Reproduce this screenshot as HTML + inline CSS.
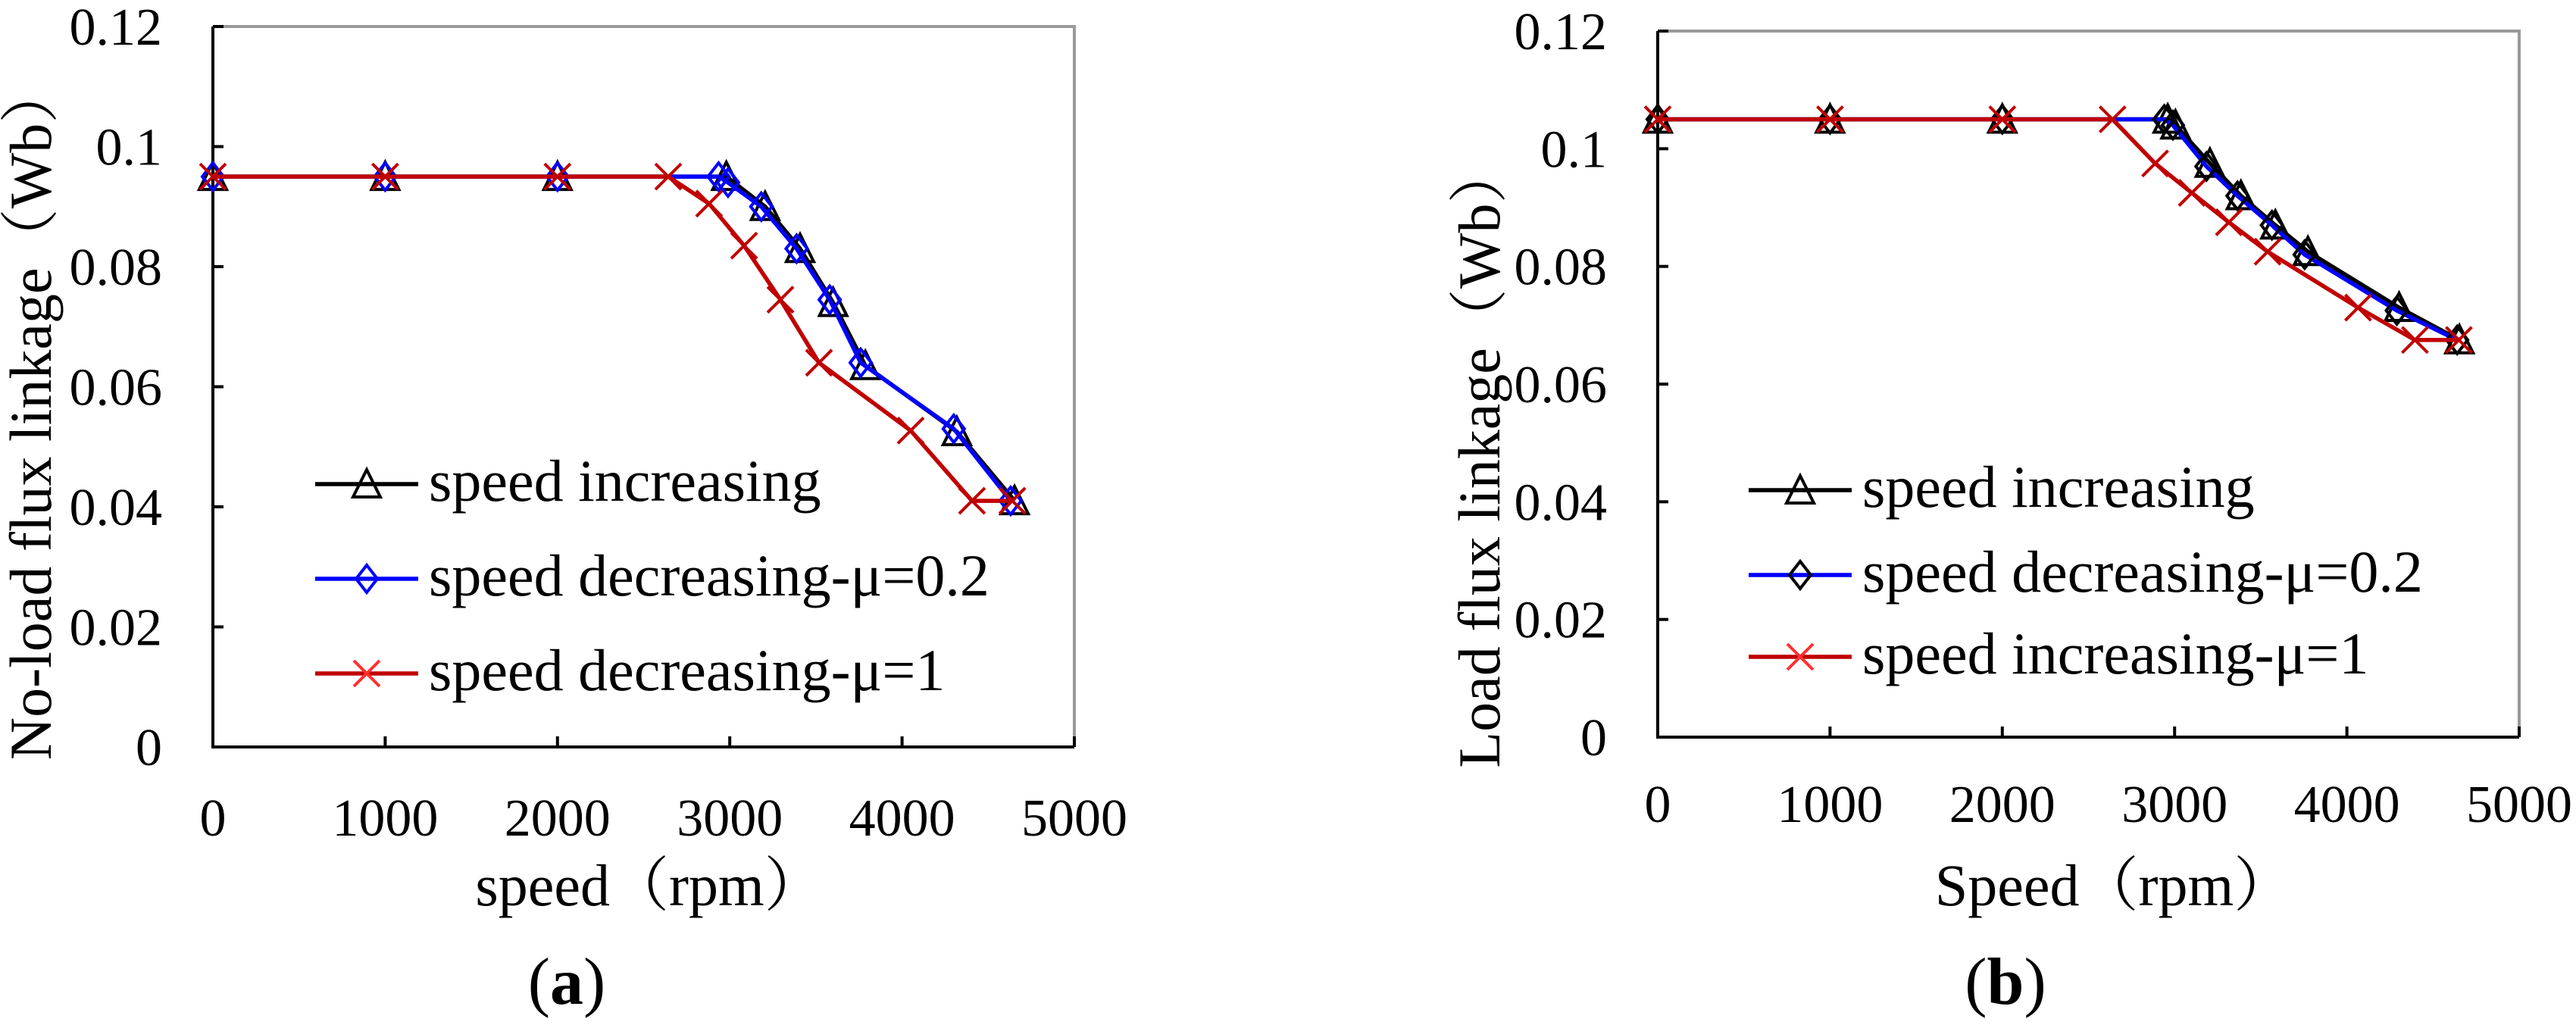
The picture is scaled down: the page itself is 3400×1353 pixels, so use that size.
<!DOCTYPE html>
<html><head><meta charset="utf-8">
<style>
html,body{margin:0;padding:0;background:#fff;}
svg{display:block;}
text{font-family:"Liberation Serif","DejaVu Serif","Times New Roman","Noto Serif CJK SC","Noto Sans CJK SC",serif;fill:#000;}
</style></head>
<body>
<svg id="chart" width="3400" height="1353" viewBox="0 0 3400 1353" xmlns="http://www.w3.org/2000/svg"></svg>
<script>
// Panel (a) data
const xTicks = [0, 1000, 2000, 3000, 4000, 5000];
const yTicks = [0, 0.02, 0.04, 0.06, 0.08, 0.1, 0.12];
const yTickLabels = ["0", "0.02", "0.04", "0.06", "0.08", "0.1", "0.12"];
const aIncX = [0, 1000, 2000, 2980, 3205, 3408, 3600, 3787, 4318, 4653];
const aIncY = [0.095, 0.095, 0.095, 0.095, 0.090, 0.083, 0.074, 0.0635, 0.0525, 0.041];
const aDecX = [0, 1000, 2000, 2935, 2990, 3183, 3388, 3580, 3760, 4300, 4630];
const aDecY = [0.095, 0.095, 0.095, 0.095, 0.094, 0.090, 0.083, 0.0745, 0.064, 0.053, 0.041];
const aMu1X = [0, 1000, 2000, 2643, 2880, 3083, 3294, 3518, 4050, 4406, 4640];
const aMu1Y = [0.095, 0.095, 0.095, 0.095, 0.0905, 0.0835, 0.0745, 0.064, 0.0527, 0.041, 0.041];
// Panel (b) data
const bIncX = [0, 1000, 2000, 2960, 3005, 3205, 3385, 3585, 3774, 4303, 4653];
const bIncY = [0.105, 0.105, 0.105, 0.105, 0.104, 0.0975, 0.092, 0.087, 0.0825, 0.073, 0.0675];
const bDecX = [0, 1000, 2000, 2940, 2990, 3185, 3365, 3565, 3755, 4290, 4640];
const bDecY = [0.105, 0.105, 0.105, 0.105, 0.104, 0.097, 0.092, 0.087, 0.082, 0.0725, 0.0675];
const bMu1X = [0, 1000, 2000, 2640, 2887, 3100, 3315, 3540, 4065, 4395, 4650];
const bMu1Y = [0.105, 0.105, 0.105, 0.105, 0.0975, 0.0925, 0.0875, 0.0825, 0.073, 0.0675, 0.0675];

const FONT = '"Liberation Serif","DejaVu Serif","Times New Roman","Noto Serif CJK SC","Noto Sans CJK SC",serif';
const NS = "http://www.w3.org/2000/svg";
const svg = document.getElementById('chart');
function mk(tag, attrs, parent, txt){
  const e = document.createElementNS(NS, tag);
  for (const k in attrs) e.setAttribute(k, attrs[k]);
  if (tag === 'text') e.setAttribute('font-family', FONT);
  if (txt !== undefined) e.textContent = txt;
  (parent || svg).appendChild(e);
  return e;
}
function marker(g, type, cx, cy, color){
  let e;
  if (type === 'tri') {
    e = mk('polygon', {points:`${cx},${cy-19} ${cx-18},${cy+17} ${cx+18},${cy+17}`, fill:'none', stroke:color, 'stroke-width':4}, g);
  } else if (type === 'dia') {
    e = mk('polygon', {points:`${cx},${cy-18} ${cx+14},${cy} ${cx},${cy+18} ${cx-14},${cy}`, fill:'none', stroke:color, 'stroke-width':4}, g);
  } else {
    e = mk('path', {d:`M${cx-17},${cy-17}L${cx+17},${cy+17}M${cx+17},${cy-17}L${cx-17},${cy+17}`, stroke:color, 'stroke-width':4, fill:'none'}, g);
  }
  
  
}
function panel(p){
  const g = mk('g', {});
  
  
  const sx = v => p.L + (v / 5000) * (p.R - p.L);
  const sy = v => p.B - (v / 0.12) * (p.B - p.T);
  const fr = mk('path', {d:`M${p.L},${p.T}H${p.R}V${p.B}`, stroke:'#999', 'stroke-width':4, fill:'none'}, g);
  
  
  const ax = mk('path', {d:`M${p.L},${p.T}V${p.B}H${p.R}`, stroke:'#000', 'stroke-width':4, fill:'none'}, g);
  
  
  yTicks.forEach((v, i) => {
    const y = sy(v);
    mk('line', {x1:p.L, x2:p.L+14, y1:y, y2:y, stroke:'#000', 'stroke-width':4}, g);
    const t = mk('text', {x:p.yLabX, y:y+24, 'font-size':70, 'text-anchor':'end'}, g, yTickLabels[i]);
    
    
  });
  xTicks.forEach(v => {
    const x = sx(v);
    mk('line', {x1:x, x2:x, y1:p.B, y2:p.B-14, stroke:'#000', 'stroke-width':4}, g);
    const t = mk('text', {x:x, y:p.xLabY+24, 'font-size':70, 'text-anchor':'middle'}, g, String(v));
    
    
  });
  p.series.forEach(s => {
    const sg = mk('g', {}, g);
    
    
    const pts = s.x.map((v, i) => `${sx(v)},${sy(s.y[i])}`).join(' ');
    mk('polyline', {points:pts, fill:'none', stroke:s.color, 'stroke-width':5.5}, sg);
    s.x.forEach((v, i) => marker(sg, s.m, sx(v), sy(s.y[i]), s.mColor));
  });
  p.legend.forEach((l, i) => {
    const lg = mk('g', {}, g);
    
    
    const y = p.legY[i];
    mk('line', {x1:p.legX, x2:p.legX+136, y1:y, y2:y, stroke:l.color, 'stroke-width':5.5}, lg);
    marker(lg, l.m, p.legX+68, y, l.mColor);
    mk('text', {x:p.legX+150, y:y+22, 'font-size':78}, lg, l.label);
  });
  const xt = mk('text', {x:p.xTitleX, y:p.xTitleY+26, 'font-size':78, 'text-anchor':'middle'}, g, p.xTitle);
  
  
  const yt = mk('text', {x:0, y:0, 'font-size':78, 'text-anchor':'middle', transform:`translate(${p.yTitleX+26},${p.yTitleY}) rotate(-90)`}, g, p.yTitle);
  
  
  const cap = mk('text', {x:p.capX, y:p.capY+30, 'font-size':88, 'font-weight':'bold', 'text-anchor':'middle'}, g);
  
  
  mk('tspan', {'font-weight':'normal'}, cap, '(');
  mk('tspan', {}, cap, p.cap);
  mk('tspan', {'font-weight':'normal'}, cap, ')');
}
panel({
  name:'panel-a', L:281, R:1418, T:35, B:986, yLabX:214, xLabY:1079,
  series:[
    {name:'series-speed-increasing', x:aIncX, y:aIncY, color:'#000', mColor:'#000', m:'tri'},
    {name:'series-speed-decreasing-mu-0.2', x:aDecX, y:aDecY, color:'#0000ff', mColor:'#0000ff', m:'dia'},
    {name:'series-speed-decreasing-mu-1', x:aMu1X, y:aMu1Y, color:'#c00000', mColor:'#c00000', m:'x'}
  ],
  legend:[
    {label:'speed increasing', color:'#000', mColor:'#000', m:'tri'},
    {label:'speed decreasing-μ=0.2', color:'#0000ff', mColor:'#0000ff', m:'dia'},
    {label:'speed decreasing-μ=1', color:'#c00000', mColor:'#ff3030', m:'x'}
  ],
  legX:416, legY:[639, 764, 889], xTitle:'speed（rpm）', xTitleX:857, xTitleY:1169,
  yTitle:'No-load flux linkage（Wb）', yTitleX:41, yTitleY:544, cap:'a', capX:748, capY:1295
});
panel({
  name:'panel-b', L:2188, R:3325, T:41, B:973, yLabX:2121, xLabY:1061,
  series:[
    {name:'series-speed-increasing', x:bIncX, y:bIncY, color:'#000', mColor:'#000', m:'tri'},
    {name:'series-speed-decreasing-mu-0.2', x:bDecX, y:bDecY, color:'#0000ff', mColor:'#000', m:'dia'},
    {name:'series-speed-increasing-mu-1', x:bMu1X, y:bMu1Y, color:'#c00000', mColor:'#c00000', m:'x'}
  ],
  legend:[
    {label:'speed increasing', color:'#000', mColor:'#000', m:'tri'},
    {label:'speed decreasing-μ=0.2', color:'#0000ff', mColor:'#000', m:'dia'},
    {label:'speed increasing-μ=1', color:'#c00000', mColor:'#ff3030', m:'x'}
  ],
  legX:2308, legY:[647, 759, 867], xTitle:'Speed（rpm）', xTitleX:2790, xTitleY:1169,
  yTitle:'Load flux linkage（Wb）', yTitleX:1953, yTitleY:602, cap:'b', capX:2647, capY:1295
});
</script>
</body></html>
